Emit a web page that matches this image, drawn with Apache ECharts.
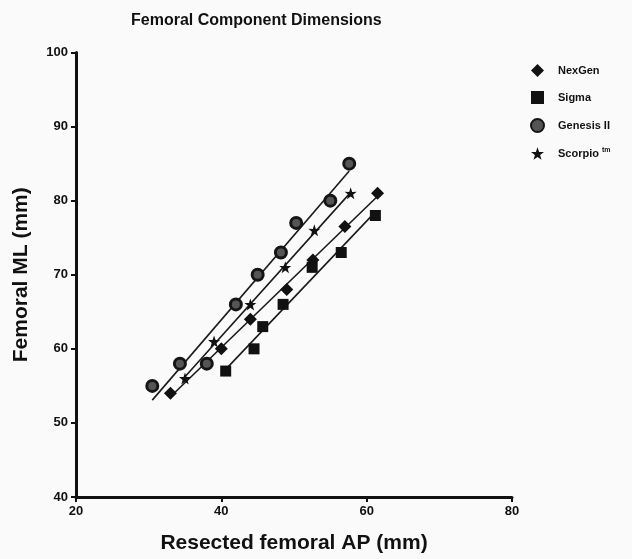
<!DOCTYPE html>
<html>
<head>
<meta charset="utf-8">
<script src="https://cdn.jsdelivr.net/npm/echarts@6/dist/echarts.min.js"></script>
<style>html,body{margin:0;padding:0;background:#fafafa;}#c{width:632px;height:559px;}</style>
</head>
<body>
<div id="c"></div>
<script>
// Data
const nexgenX = [33, 40, 44, 49, 52.6, 57, 61.5];
const nexgenY = [54, 60, 64, 68, 72, 76.5, 81];
const sigmaX = [40.6, 44.5, 45.7, 48.5, 52.5, 56.5, 61.2];
const sigmaY = [57, 60, 63, 66, 71, 73, 78];
const genesisX = [30.5, 34.3, 38, 42, 45, 48.2, 50.3, 55, 57.6];
const genesisY = [55, 58, 58, 66, 70, 73, 77, 80, 85];
const scorpioX = [35, 39, 44, 48.8, 52.8, 57.8];
const scorpioY = [56, 61, 66, 71, 76, 81];
const seriesNames = ['NexGen', 'Sigma', 'Genesis II', 'Scorpio tm'];
const xTicks = [20, 40, 60, 80];
const yTicks = [40, 50, 60, 70, 80, 90, 100];

const starPath = 'path://M50,0 L61.8,35.1 L97.6,34.5 L69,56.2 L79.4,90.5 L50,70 L20.6,90.5 L31,56.2 L2.4,34.5 L38.2,35.1 Z';

function pairs(xs, ys) { return xs.map((x, i) => [x, ys[i]]); }
function fitLine(xs, ys) {
  const n = xs.length;
  const mx = xs.reduce((a, b) => a + b, 0) / n;
  const my = ys.reduce((a, b) => a + b, 0) / n;
  let sxy = 0, sxx = 0;
  for (let i = 0; i < n; i++) { sxy += (xs[i] - mx) * (ys[i] - my); sxx += (xs[i] - mx) ** 2; }
  const b = sxy / sxx, a = my - b * mx;
  const x0 = Math.min(...xs), x1 = Math.max(...xs);
  return [[x0, a + b * x0], [x1, a + b * x1]];
}

const sets = [
  { name: seriesNames[0], xs: nexgenX, ys: nexgenY, symbol: 'diamond', size: 13, style: { color: '#111', opacity: 1 } },
  { name: seriesNames[1], xs: sigmaX, ys: sigmaY, symbol: 'rect', size: 11, style: { color: '#111', opacity: 1 } },
  { name: seriesNames[2], xs: genesisX, ys: genesisY, symbol: 'circle', size: 11, style: { color: '#555', borderColor: '#151515', borderWidth: 3, opacity: 1 } },
  { name: seriesNames[3], xs: scorpioX, ys: scorpioY, symbol: starPath, size: 12, style: { color: '#111', opacity: 1 } }
];

const series = [];
sets.forEach(s => {
  series.push({
    type: 'line', data: fitLine(s.xs, s.ys), showSymbol: false, silent: true,
    lineStyle: { color: '#1a1a1a', width: 1.6 }, z: 1
  });
});
sets.forEach(s => {
  series.push({
    type: 'scatter', name: s.name, data: pairs(s.xs, s.ys), symbol: s.symbol,
    symbolSize: s.size, itemStyle: s.style, z: 3
  });
});

const font = '"Liberation Sans", Arial, sans-serif';
const chart = echarts.init(document.getElementById('c'));
chart.setOption({
  backgroundColor: '#fafafa',
  animation: false,
  title: {
    text: 'Femoral Component Dimensions', left: 126, top: 8,
    textStyle: { fontFamily: font, fontWeight: 'bold', fontSize: 16, color: '#111' }
  },
  legend: {
    orient: 'vertical', left: 525, top: 59, itemWidth: 13, itemHeight: 13, itemGap: 14,
    data: seriesNames,
    formatter: n => n === 'Scorpio tm' ? 'Scorpio {sup|tm}' : n,
    textStyle: {
      fontFamily: font, fontWeight: 'bold', fontSize: 11, color: '#111', padding: [0, 0, 0, 9],
      rich: { sup: { fontSize: 7, fontWeight: 'bold', fontFamily: font, verticalAlign: 'top', padding: [0, 0, 6, 0], color: '#111' } }
    }
  },
  grid: { left: 76, right: 120, top: 52.5, bottom: 61, containLabel: false },
  xAxis: {
    type: 'value', min: xTicks[0], max: xTicks[xTicks.length - 1], interval: 20,
    name: 'Resected femoral AP (mm)', nameLocation: 'middle', nameGap: 36,
    nameTextStyle: { fontFamily: font, fontWeight: 'bold', fontSize: 21, color: '#111' },
    axisLine: { lineStyle: { color: '#111', width: 3 } },
    axisTick: { length: 5, lineStyle: { width: 2, color: '#111' } },
    axisLabel: { fontFamily: font, fontWeight: 'bold', fontSize: 13, color: '#111', margin: 8 },
    splitLine: { show: false }
  },
  yAxis: {
    type: 'value', min: yTicks[0], max: yTicks[yTicks.length - 1], interval: 10,
    name: 'Femoral ML (mm)', nameLocation: 'middle', nameGap: 44,
    nameTextStyle: { fontFamily: font, fontWeight: 'bold', fontSize: 21, color: '#111' },
    axisLine: { show: true, lineStyle: { color: '#111', width: 3 } },
    axisTick: { show: true, length: 5, lineStyle: { width: 2, color: '#111' } },
    axisLabel: { fontFamily: font, fontWeight: 'bold', fontSize: 13, color: '#111', margin: 8 },
    splitLine: { show: false }
  },
  series: series
});
</script>
</body>
</html>
